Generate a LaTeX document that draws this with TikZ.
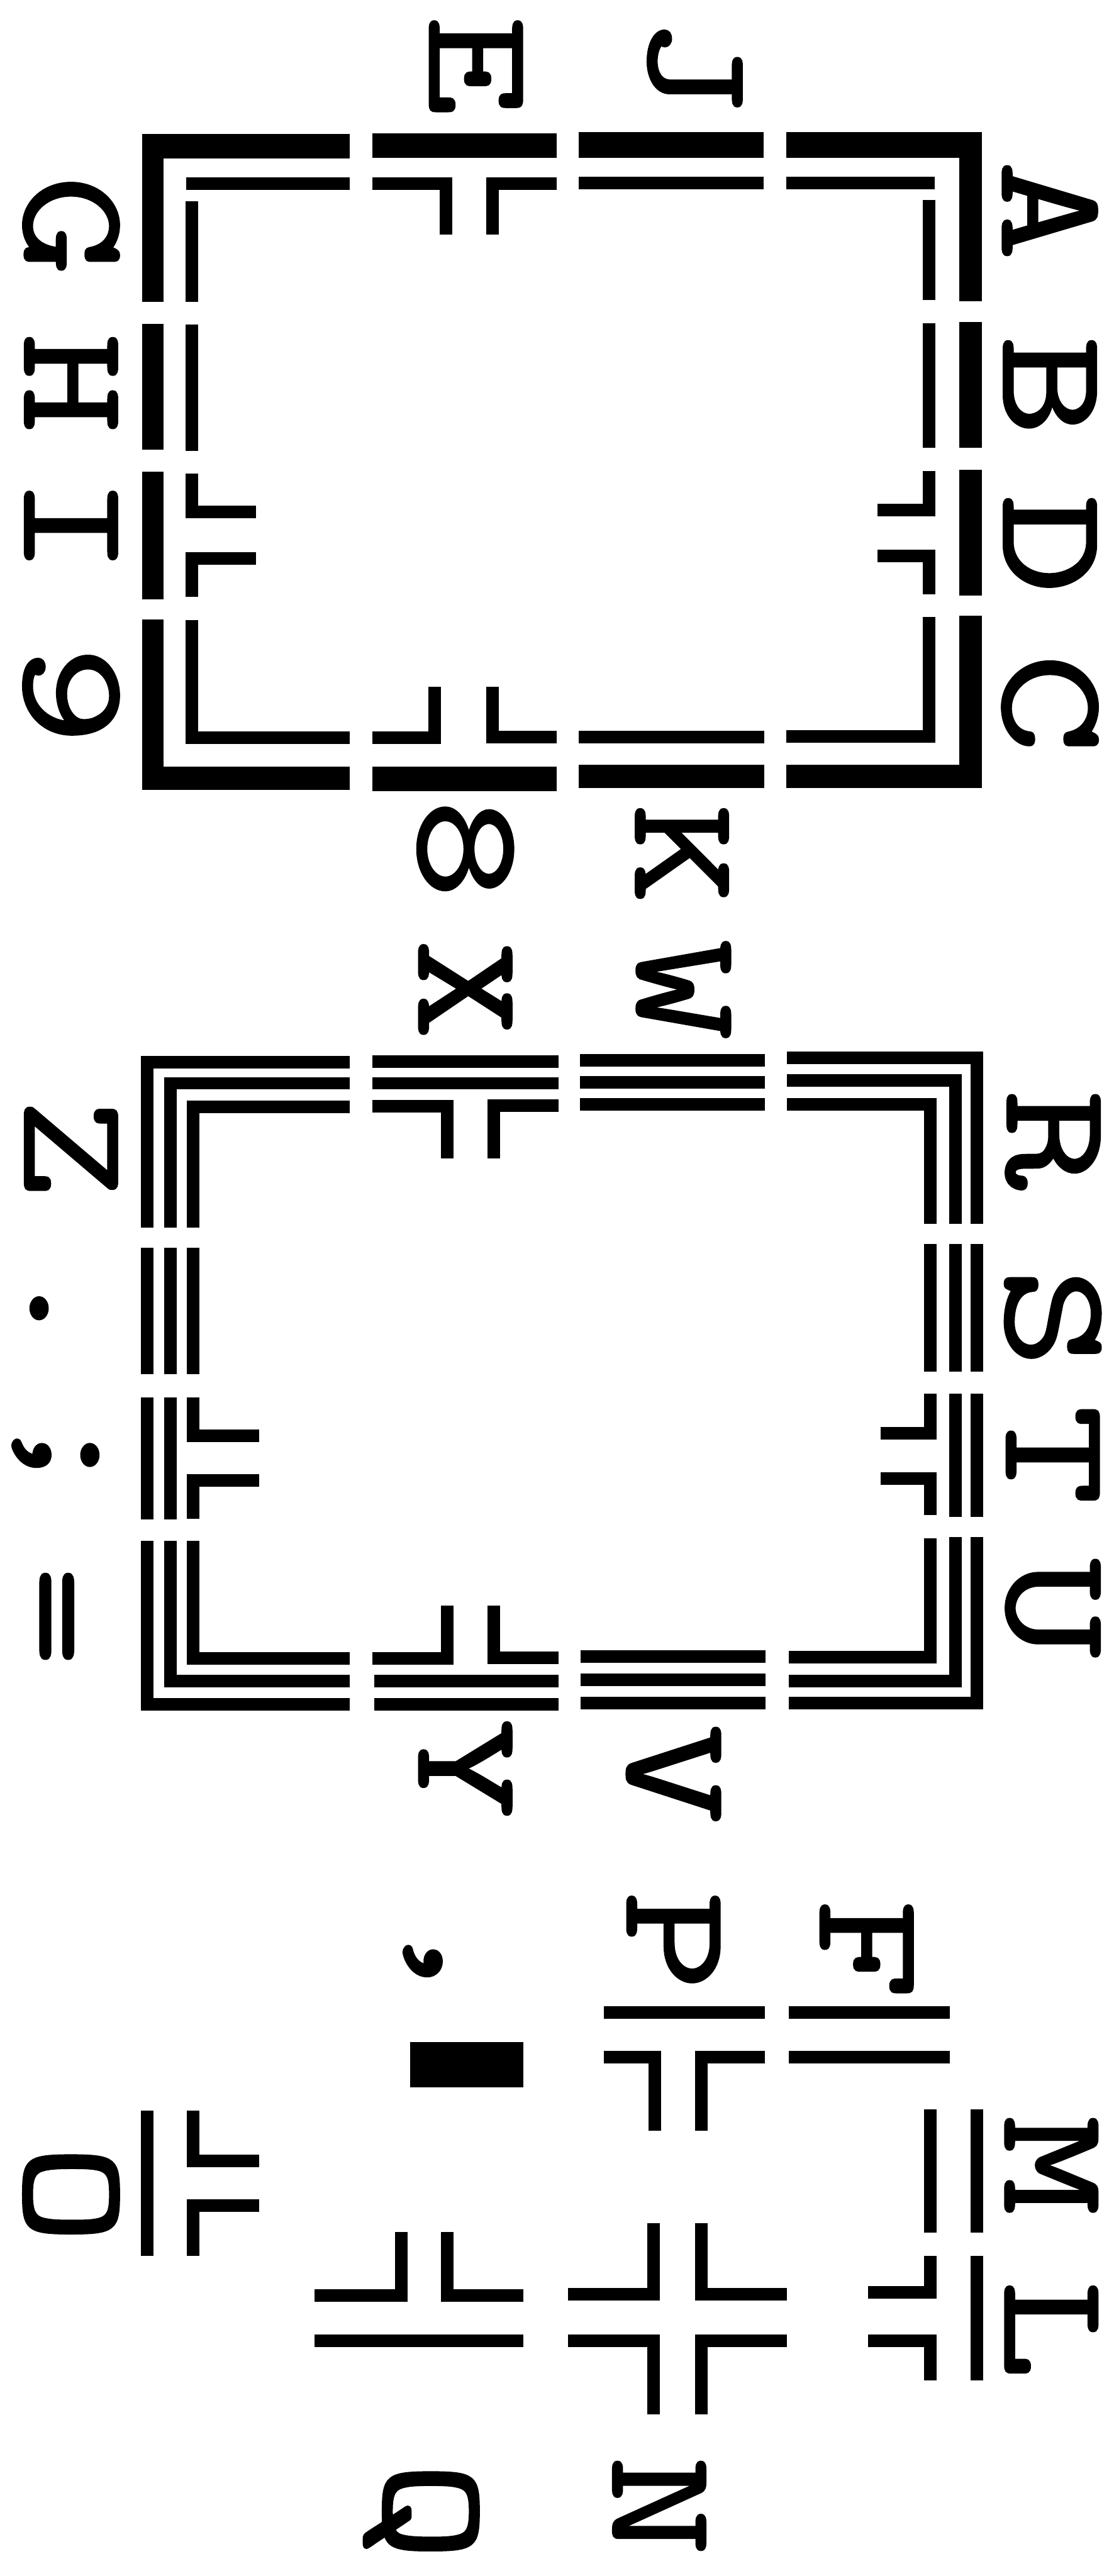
\documentclass[tikz,border=0pt]{standalone}
\usepackage{fontspec}
\usepackage{tikz}
\newfontfamily\platefont[FakeStretch=1.28,FakeBold=1.5]{Latin Modern Mono}
\tikzset{
  keyline/.style={line width=12.5pt,black},
  heavybar/.style={fill=black},
  keycap/.style={rotate=-90,inner sep=0pt,font=\platefont\fontsize{150}{150}\selectfont}
}
\begin{document}
\begin{tikzpicture}[x=0.02483cm,y=-0.01913cm]
  \useasboundingbox (0,0) rectangle (1568,4706);
  % first frame
  \foreach \xa/\ya/\xb/\yb in {200/245/492/290,524/243/784/288,815/241/1075/288,1107/241/1382/288,
      200/1400/492/1443,524/1400/784/1445,815/1397/1076/1440,1107/1397/1382/1440,
      200/245/230/552,200/592/230/822,200/862/230/1095,200/1132/230/1443,
      1350/241/1382/550,1350/588/1382/818,1350/858/1382/1088,1350/1125/1382/1440}{
    \fill[heavybar] (\xa,\ya) rectangle (\xb,\yb);}
  \draw[keyline] (262,336) -- (492,336);
  \draw[keyline] (524,335) -- (628,335) -- (628,428);
  \draw[keyline] (693,428) -- (693,335) -- (784,335);
  \draw[keyline] (815,334) -- (1075,334);
  \draw[keyline] (1107,334) -- (1316,334);
  \draw[keyline] (270,368) -- (270,552);
  \draw[keyline] (270,593) -- (270,824);
  \draw[keyline] (270,865) -- (270,935) -- (360,935);
  \draw[keyline] (360,1020) -- (270,1020) -- (270,1090);
  \draw[keyline] (270,1133) -- (270,1348) -- (492,1348);
  \draw[keyline] (524,1348) -- (612,1348) -- (612,1255);
  \draw[keyline] (693,1255) -- (693,1347) -- (784,1347);
  \draw[keyline] (815,1346) -- (1076,1346);
  \draw[keyline] (1107,1345) -- (1308,1345) -- (1308,1127);
  \draw[keyline] (1308,365) -- (1308,548);
  \draw[keyline] (1308,590) -- (1308,818);
  \draw[keyline] (1308,860) -- (1308,932) -- (1235,932);
  \draw[keyline] (1235,1016) -- (1308,1016) -- (1308,1086);
  \node[keycap] (keyE) at (670,120) {E};
  \node[keycap] (keyJ) at (978,120) {J};
  \node[keycap] (keyG) at (100,412) {G};
  \node[keycap] (keyH) at (100,700) {H};
  \node[keycap] (keyI) at (100,960) {I};
  \node[keycap] (keyNine) at (100,1270) {9};
  \node[keycap] (keyA) at (1478,385) {A};
  \node[keycap] (keyB) at (1478,705) {B};
  \node[keycap] (keyD) at (1478,995) {D};
  \node[keycap] (keyC) at (1478,1285) {C};
  \node[keycap] (keyEight) at (655,1551) {8};
  \node[keycap] (keyK) at (960,1560) {K};
  % second frame
  \begin{scope}[shift={(0,1568)}]
    \foreach \xa/\ya/\xb/\yb/\xc/\yc in {207/675/207/372/492/372,240/675/240/411/492/411,
        1108/364/1375/364/1375/668,1108/406/1345/406/1345/668,
        207/1247/207/1545/492/1545,240/1247/240/1503/492/1503,
        1110/1543/1375/1543/1375/1240,1110/1503/1345/1503/1345/1240}{
      \draw[keyline] (\xa,\ya) -- (\xb,\yb) -- (\xc,\yc);}
    \foreach \x/\ya/\yb in {207/712/942,207/985/1208,240/712/942,240/985/1208,272/712/942,
        1375/705/938,1375/978/1203,1345/705/938,1345/978/1203,1310/705/938}{
      \draw[keyline] (\x,\ya) -- (\x,\yb);}
    \foreach \y/\xa/\xb in {371/524/786,411/524/786,369/816/1077,409/816/1077,450/816/1077,
        1503/527/786,1545/527/786,1458/817/1078,1501/817/1078,1543/817/1078}{
      \draw[keyline] (\xa,\y) -- (\xb,\y);}
    \draw[keyline] (272,675) -- (272,454) -- (492,454);
    \draw[keyline] (524,453) -- (630,453) -- (630,548);
    \draw[keyline] (695,548) -- (695,452) -- (786,452);
    \draw[keyline] (1108,450) -- (1310,450) -- (1310,668);
    \draw[keyline] (272,985) -- (272,1055) -- (365,1055);
    \draw[keyline] (365,1137) -- (272,1137) -- (272,1207);
    \draw[keyline] (1310,978) -- (1310,1050) -- (1240,1050);
    \draw[keyline] (1240,1133) -- (1310,1133) -- (1310,1200);
    \draw[keyline] (272,1247) -- (272,1462) -- (492,1462);
    \draw[keyline] (630,1365) -- (630,1462) -- (524,1462);
    \draw[keyline] (695,1365) -- (695,1460) -- (786,1460);
    \draw[keyline] (1110,1459) -- (1310,1459) -- (1310,1242);
    \node[keycap] (keyX) at (655,240) {X};
    \node[keycap] (keyW) at (962,240) {W};
    \node[keycap] (keyZ) at (100,530) {Z};
    \node[keycap] (keyDot) at (55,822) {.};
    \node[keycap] (keySemi) at (78,1090) {;};
    \node[keycap] (keyEq) at (59,1385) {=};
    \node[keycap] (keyR) at (1482,515) {R};
    \node[keycap] (keyS) at (1482,840) {S};
    \node[keycap] (keyT) at (1482,1090) {T};
    \node[keycap] (keyU) at (1482,1370) {U};
  \end{scope}
  % loose keys
  \begin{scope}[shift={(0,3136)}]
    \fill[heavybar] (577,595) rectangle (737,677);
    \draw[keyline] (850,540) -- (1077,540);
    \draw[keyline] (1110,540) -- (1337,540);
    \draw[keyline] (850,622) -- (922,622) -- (922,757);
    \draw[keyline] (987,757) -- (987,622) -- (1077,622);
    \draw[keyline] (1110,622) -- (1337,622);
    \draw[keyline] (1310,717) -- (1310,943);
    \draw[keyline] (1375,717) -- (1375,943);
    \draw[keyline] (1375,985) -- (1375,1213);
    \draw[keyline] (1310,985) -- (1310,1052) -- (1222,1052);
    \draw[keyline] (1222,1140) -- (1310,1140) -- (1310,1213);
    \draw[keyline] (207,720) -- (207,985);
    \draw[keyline] (272,720) -- (272,812) -- (365,812);
    \draw[keyline] (365,893) -- (272,893) -- (272,985);
    \draw[keyline] (565,942) -- (565,1058) -- (443,1058);
    \draw[keyline] (630,942) -- (630,1058) -- (737,1058);
    \draw[keyline] (443,1140) -- (737,1140);
    \draw[keyline] (920,925) -- (920,1055) -- (800,1055);
    \draw[keyline] (987,925) -- (987,1055) -- (1108,1055);
    \draw[keyline] (800,1140) -- (920,1140) -- (920,1275);
    \draw[keyline] (1108,1140) -- (987,1140) -- (987,1275);
    \node[keycap] (keyY) at (655,95) {Y};
    \node[keycap] (keyV) at (948,105) {V};
    \node[keycap] (keyComma) at (595,447) {,};
    \node[keycap] (keyP) at (948,410) {P};
    \node[keycap] (keyF) at (1220,425) {F};
    \node[keycap] (keyM) at (1480,820) {M};
    \node[keycap] (keyL) at (1480,1120) {L};
    \node[keycap] (keyO) at (100,873) {O};
    \node[keycap] (keyQ) at (593,1452) {Q};
    \node[keycap] (keyN) at (928,1442) {N};
  \end{scope}
\end{tikzpicture}
\end{document}
